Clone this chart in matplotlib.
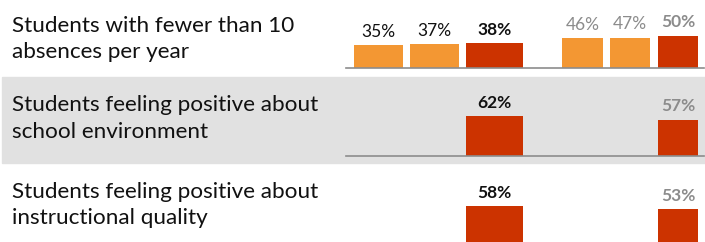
import matplotlib.pyplot as plt
from matplotlib.patches import Rectangle

# data
measures = ["Students with fewer than 10\nabsences per year",
            "Students feeling positive about\nschool environment",
            "Students feeling positive about\ninstructional quality"]
group_a = [[35, 37, 38], [62], [58]]   # left cluster
group_b = [[46, 47, 50], [57], [53]]   # right cluster

ORANGE = "#F39733"
RED = "#CC3300"
BAND = "#E1E1E1"

W, H = 705, 242
fig = plt.figure(figsize=(W / 100, H / 100), dpi=100)
plt.rcParams['font.family'] = ['Lato', 'DejaVu Sans']

# grey band behind the middle row
fig.patches.append(Rectangle((2 / W, (H - 163) / H), (W - 2) / W, 86 / H,
                             transform=fig.transFigure, color=BAND, zorder=-5))

# layout in pixel units along x (axes xlim = pixel columns)
x_a3 = [378.5, 434.5, 494.5]
w_a3 = [49, 49, 57]
x_b3 = [582.5, 630, 678]
w_b3 = [41, 40, 40]
baselines = [68, 156.3, 243.5]
text_base = [58.3, 137.7, 224.5]   # baseline of the second text line
px_per_pct = 0.645

for i, (label, a, b) in enumerate(zip(measures, group_a, group_b)):
    bottom = (H - baselines[i]) / H
    ax = fig.add_axes([346 / W, bottom, 358 / W, 100 * px_per_pct / H])
    ax.set_zorder(2)
    ax.set_xlim(346, 704)
    ax.set_ylim(0, 100)
    ax.patch.set_visible(False)
    for s in ["top", "left", "right"]:
        ax.spines[s].set_visible(False)
    ax.spines["bottom"].set_color("#8C8C8C")
    ax.spines["bottom"].set_linewidth(1.2)
    ax.set_xticks([])
    ax.set_yticks([])

    if len(a) == 3:
        xa, wa, xb, wb = x_a3, w_a3, x_b3, w_b3
    else:
        xa, wa, xb, wb = x_a3[-1:], w_a3[-1:], x_b3[-1:], w_b3[-1:]

    for j, v in enumerate(a):
        last = j == len(a) - 1
        ax.bar(xa[j], v, width=wa[j], color=RED if last else ORANGE)
        ax.annotate(f"{v}%", (xa[j], v), xytext=(0, 4), textcoords="offset points",
                    ha="center", va="bottom", fontsize=12.5,
                    fontweight="bold" if last else "normal", color="#111111",
                    annotation_clip=False)
    for j, v in enumerate(b):
        last = j == len(b) - 1
        ax.bar(xb[j], v, width=wb[j], color=RED if last else ORANGE)
        ax.annotate(f"{v}%", (xb[j], v), xytext=(0, 4), textcoords="offset points",
                    ha="center", va="bottom", fontsize=12.5,
                    fontweight="bold" if last else "normal", color="#8C8C8C",
                    annotation_clip=False)

    fig.text(12 / W, (H - text_base[i]) / H, label, ha="left", va="baseline",
             fontsize=16.2, color="#111111", linespacing=1.4)

fig.savefig("out.png", dpi=100)
